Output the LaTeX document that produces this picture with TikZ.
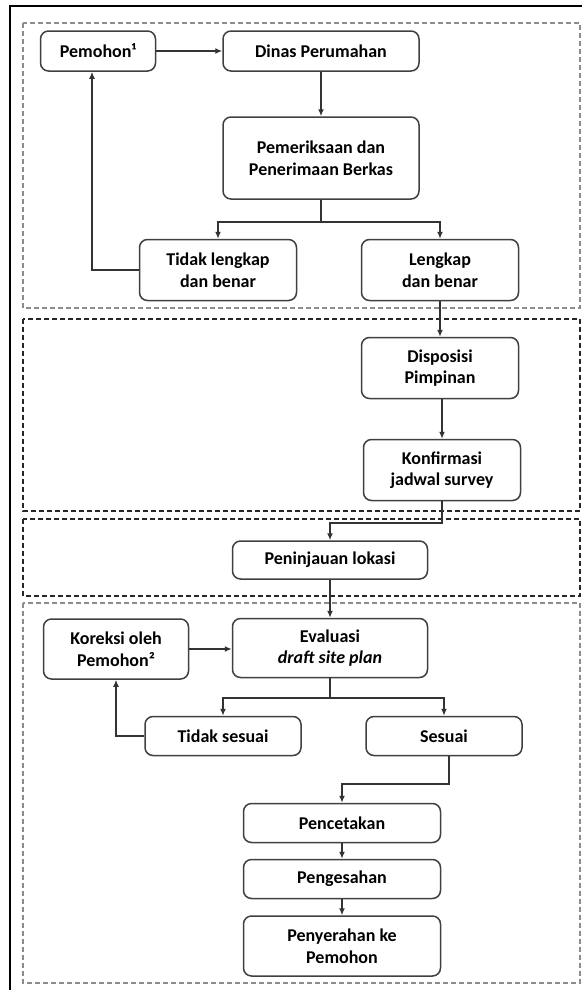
\documentclass[tikz,border=0pt]{standalone}
\usepackage{fontspec}
\setmainfont{Carlito}
\usepackage{tikz}
\usetikzlibrary{arrows.meta,shapes}

\begin{document}
\begin{tikzpicture}[>={Latex[length=7bp,width=6bp]},
  box/.style={draw=black!75,line width=1.5bp,rounded corners=8bp,fill=white,align=center,inner sep=2bp,
    font=\fontsize{18bp}{21.5bp}\selectfont\bfseries},
  area/.style={draw=black!45,line width=1.2bp,dash pattern=on 5bp off 3bp},
  darkarea/.style={area,draw=black!85},
  link/.style={->,line width=1.4bp,draw=black!80}]

\useasboundingbox (0bp,0bp) rectangle (582bp,-990bp);
\draw [line width=2bp] (10bp,-990bp) -- (10bp,-6bp) -- (582bp,-6bp);

\draw [area] (23bp,-23bp) rectangle (580bp,-308bp);
\draw [darkarea] (23bp,-319bp) rectangle (580bp,-511bp);
\draw [darkarea] (23bp,-519bp) rectangle (580bp,-596bp);
\draw [area] (23bp,-603bp) rectangle (580bp,-983bp);

\node (Pemohon) at (98bp,-51bp)[box,minimum width=115bp,minimum height=40bp] {Pemohon¹};
\node (Dinas) at (321bp,-51bp)[box,minimum width=196bp,minimum height=40bp] {Dinas Perumahan};
\node (Periksa) at (321bp,-158bp)[box,minimum width=196bp,minimum height=82bp] {Pemeriksaan dan\\Penerimaan Berkas};
\node (TidakLengkap) at (218bp,-270bp)[box,minimum width=157bp,minimum height=61bp] {Tidak lengkap\\dan benar};
\node (Lengkap) at (440bp,-270bp)[box,minimum width=157bp,minimum height=61bp] {Lengkap\\dan benar};
\node (Disposisi) at (440bp,-368bp)[box,minimum width=157bp,minimum height=61bp] {Disposisi\\Pimpinan};
\node (Konfirmasi) at (442bp,-470bp)[box,minimum width=157bp,minimum height=61bp] {Konfirmasi\\jadwal survey};
\node (Tinjau) at (330bp,-560bp)[box,minimum width=195bp,minimum height=38bp] {Peninjauan lokasi};
\node (Koreksi) at (116bp,-649bp)[box,minimum width=145bp,minimum height=60bp] {Koreksi oleh\\Pemohon²};
\node (Evaluasi) at (330bp,-648bp)[box,minimum width=195bp,minimum height=59bp] {Evaluasi\\\textit{draft site plan}};
\node (TidakSesuai) at (223bp,-736bp)[box,minimum width=156bp,minimum height=39bp] {Tidak sesuai};
\node (Sesuai) at (444bp,-736bp)[box,minimum width=156bp,minimum height=39bp] {Sesuai};
\node (Cetak) at (342bp,-823bp)[box,minimum width=197bp,minimum height=39bp] {Pencetakan};
\node (Sah) at (342bp,-879bp)[box,minimum width=197bp,minimum height=39bp] {Pengesahan};
\node (Serah) at (342bp,-946bp)[box,minimum width=197bp,minimum height=60bp] {Penyerahan ke\\Pemohon};

\coordinate (cekSplit) at (321bp,-222bp);
\coordinate (surveyTurn) at (442bp,-523bp);
\coordinate (evalSplit) at (330bp,-698bp);
\coordinate (sesuaiTurn) at (449bp,-784bp);

\draw [link] (Pemohon) to (Dinas);
\draw [link] (Dinas) to (Periksa);
\draw [link,-] (Periksa) to (cekSplit);
\draw [link] (cekSplit) -| (TidakLengkap);
\draw [link] (cekSplit) -| (Lengkap);
\draw [link] (TidakLengkap.west) -| ([xshift=-6bp]Pemohon.south);
\draw [link] (Lengkap) to (Disposisi);
\draw [link] (Disposisi.south -| Konfirmasi.north) to (Konfirmasi);
\draw [link] (Konfirmasi) -- (surveyTurn) -| (Tinjau);
\draw [link] (Tinjau) to (Evaluasi);
\draw [link] (Koreksi) to (Evaluasi.west |- Koreksi);
\draw [link,-] (Evaluasi) to (evalSplit);
\draw [link] (evalSplit) -| (TidakSesuai);
\draw [link] (evalSplit) -| (Sesuai);
\draw [link] (TidakSesuai.west) -| (Koreksi);
\draw [link] (Sesuai.south -| sesuaiTurn) -- (sesuaiTurn) -| (Cetak);
\draw [link] (Cetak) to (Sah);
\draw [link] (Sah) to (Serah);
\end{tikzpicture}
\end{document}
